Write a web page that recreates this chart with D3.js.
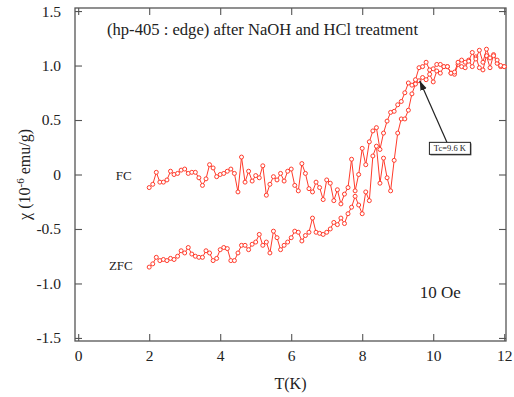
<!DOCTYPE html>
<html>
<head>
<meta charset="utf-8">
<script src="https://cdn.jsdelivr.net/npm/d3@7"></script>
<style>
  body { margin: 0; background: #fff; }
  svg text { fill: #222; }
</style>
</head>
<body>
<div id="chart"></div>
<script>
// temperatures (K)
const temps = [
  2.0, 2.1, 2.2, 2.3, 2.4, 2.5, 2.6, 2.7, 2.8, 2.9,
  3.0, 3.1, 3.2, 3.3, 3.4, 3.5, 3.6, 3.7, 3.8, 3.9,
  4.0, 4.1, 4.2, 4.3, 4.4, 4.5, 4.6, 4.7, 4.8, 4.9,
  5.0, 5.1, 5.2, 5.3, 5.4, 5.5, 5.6, 5.7, 5.8, 5.9,
  6.0, 6.1, 6.2, 6.3, 6.4, 6.5, 6.6, 6.7, 6.8, 6.9,
  7.0, 7.1, 7.2, 7.3, 7.4, 7.5, 7.6, 7.7, 7.8, 7.9,
  8.0, 8.1, 8.2, 8.3, 8.4, 8.5, 8.6, 8.7, 8.8, 8.9,
  9.0, 9.1, 9.2, 9.3, 9.4, 9.5, 9.6, 9.7, 9.8, 9.9,
  10.0, 10.1, 10.2, 10.3, 10.4, 10.5, 10.6, 10.7, 10.8, 10.9,
  11.0, 11.1, 11.2, 11.3, 11.4, 11.5, 11.6, 11.7, 11.8, 11.9,
  12.0
];

// field cooled susceptibility (10^-6 emu/g)
const fcValues = [
  -0.12, -0.09, 0.02, -0.07, -0.07, -0.05, 0.03, 0.00, 0.01, 0.04,
  0.05, 0.01, 0.02, 0.02, -0.03, -0.10, -0.04, 0.09, 0.06, -0.02,
  0.00, 0.01, 0.03, 0.05, 0.01, -0.16, 0.16, -0.07, 0.03, -0.06,
  -0.01, -0.03, 0.08, -0.19, -0.09, -0.02, -0.05, 0.01, -0.06, 0.03,
  0.05, -0.10, -0.15, 0.10, 0.01, -0.13, -0.16, -0.07, -0.12, -0.23,
  -0.05, -0.08, -0.24, -0.14, -0.27, -0.18, -0.12, 0.14, -0.15, 0.00,
  0.24, 0.09, 0.30, 0.40, 0.43, 0.23, 0.38, 0.49, 0.57, 0.58,
  0.64, 0.67, 0.75, 0.84, 0.82, 0.87, 0.98, 0.99, 1.03, 0.96,
  0.97, 1.01, 1.01, 0.99, 0.99, 0.93, 0.94, 1.03, 1.05, 1.03,
  1.04, 1.12, 1.06, 1.14, 1.03, 1.15, 1.07, 1.09, 1.05, 1.00,
  0.99
];

// zero field cooled susceptibility (10^-6 emu/g)
const zfcValues = [
  -0.85, -0.82, -0.76, -0.79, -0.78, -0.79, -0.77, -0.78, -0.75, -0.70,
  -0.72, -0.67, -0.73, -0.75, -0.76, -0.76, -0.70, -0.72, -0.79, -0.77,
  -0.69, -0.67, -0.68, -0.79, -0.79, -0.72, -0.65, -0.65, -0.69, -0.64,
  -0.62, -0.55, -0.65, -0.62, -0.72, -0.52, -0.58, -0.69, -0.65, -0.62,
  -0.58, -0.52, -0.53, -0.61, -0.56, -0.53, -0.40, -0.53, -0.54, -0.55,
  -0.53, -0.50, -0.44, -0.46, -0.40, -0.45, -0.36, -0.30, -0.20, -0.28,
  -0.36, -0.16, -0.24, 0.17, 0.26, -0.08, 0.15, -0.03, -0.15, 0.13,
  0.38, 0.51, 0.51, 0.59, 0.74, 0.83, 0.86, 0.89, 0.87, 0.92,
  0.85, 0.95, 0.93, 0.99, 0.99, 0.93, 0.92, 1.01, 0.99, 0.98,
  1.05, 0.99, 1.08, 0.98, 0.96, 1.09, 0.98, 1.10, 1.02, 0.99,
  0.99
];

const xTicks = [0, 2, 4, 6, 8, 10, 12];
const yTicks = [-1.5, -1.0, -0.5, 0, 0.5, 1.0, 1.5];
const yTickLabels = ["-1.5", "-1.0", "-0.5", "0", "0.5", "1.0", "1.5"];
const tc = 9.6;

const settings = {
  width: 514,
  height: 397,
  left: 75,
  right: 506,
  top: 8,
  bottom: 341,
  tick: 7,
  red: "#ff3b2b",
  frame: "#555",
  font: '"Liberation Serif", "Times New Roman", serif'
};

const x = d3.scaleLinear().domain([-0.09, 12.05]).range([settings.left, settings.right]);
const y = d3.scaleLinear().domain([-1.528, 1.528]).range([settings.bottom, settings.top]);

const svg = d3.select("#chart").append("svg")
  .attr("width", settings.width)
  .attr("height", settings.height)
  .attr("font-family", settings.font);

// axes, ticks inward on all four sides
const tickFmt = (d) => yTickLabels[yTicks.indexOf(d)];

const xAxisB = svg.append("g")
  .attr("transform", `translate(0,${settings.bottom})`)
  .call(d3.axisBottom(x).tickValues(xTicks).tickSizeInner(-settings.tick).tickSizeOuter(0));
const xAxisT = svg.append("g")
  .attr("transform", `translate(0,${settings.top})`)
  .call(d3.axisTop(x).tickValues(xTicks).tickSizeInner(-settings.tick).tickSizeOuter(0).tickFormat(""));
const yAxisL = svg.append("g")
  .attr("transform", `translate(${settings.left},0)`)
  .call(d3.axisLeft(y).tickValues(yTicks).tickSizeInner(-settings.tick).tickSizeOuter(0).tickPadding(14).tickFormat(tickFmt));
const yAxisR = svg.append("g")
  .attr("transform", `translate(${settings.right},0)`)
  .call(d3.axisRight(y).tickValues(yTicks).tickSizeInner(-settings.tick).tickSizeOuter(0).tickFormat(""));

[xAxisB, xAxisT, yAxisL, yAxisR].forEach((g) => {
  g.attr("font-family", settings.font);
  g.select(".domain").remove();
  g.selectAll(".tick line").attr("stroke", settings.frame).attr("stroke-width", 1.1);
  g.selectAll(".tick text")
    .attr("font-size", 15.5)
    .attr("fill", "#222");
});
xAxisB.selectAll(".tick text").attr("y", 9).attr("dy", "0.71em");

svg.append("rect")
  .attr("x", settings.left)
  .attr("y", settings.top)
  .attr("width", settings.right - settings.left)
  .attr("height", settings.bottom - settings.top)
  .attr("fill", "none")
  .attr("stroke", settings.frame)
  .attr("stroke-width", 1.3);

// series
const line = d3.line().x((d) => x(d[0])).y((d) => y(d[1]));
const series = [
  d3.zip(temps, zfcValues),
  d3.zip(temps, fcValues)
];

series.forEach((pts) => {
  svg.append("path")
    .datum(pts)
    .attr("d", line)
    .attr("fill", "none")
    .attr("stroke", settings.red)
    .attr("stroke-width", 1);

  svg.append("g")
    .selectAll("circle")
    .data(pts)
    .join("circle")
    .attr("cx", (d) => x(d[0]))
    .attr("cy", (d) => y(d[1]))
    .attr("r", 2)
    .attr("fill", "#fff")
    .attr("stroke", settings.red)
    .attr("stroke-width", 1);
});

// texts
svg.append("text")
  .attr("x", 107)
  .attr("y", 35)
  .attr("font-size", 16.6)
  .text("(hp-405 : edge) after NaOH and HCl treatment");

svg.append("text")
  .attr("x", x(1.28))
  .attr("y", y(-0.05))
  .attr("text-anchor", "middle")
  .attr("font-size", 13)
  .text("FC");

svg.append("text")
  .attr("x", x(1.2))
  .attr("y", y(-0.88))
  .attr("text-anchor", "middle")
  .attr("font-size", 13)
  .text("ZFC");

svg.append("text")
  .attr("x", x(10.2))
  .attr("y", y(-1.13))
  .attr("text-anchor", "middle")
  .attr("font-size", 17)
  .text("10 Oe");

svg.append("text")
  .attr("x", (settings.left + settings.right) / 2)
  .attr("y", 389)
  .attr("text-anchor", "middle")
  .attr("font-size", 16)
  .text("T(K)");

const yLab = svg.append("text")
  .attr("transform", `translate(30,${y(0)}) rotate(-90)`)
  .attr("text-anchor", "middle")
  .attr("font-size", 16);
yLab.append("tspan").text("χ (10");
yLab.append("tspan").attr("dy", -6).attr("font-size", 11).text("-6");
yLab.append("tspan").attr("dy", 6).text(" emu/g)");

// Tc annotation
const defs = svg.append("defs");
defs.append("marker")
  .attr("id", "arrow")
  .attr("viewBox", "0 0 10 10")
  .attr("refX", 10)
  .attr("refY", 5)
  .attr("markerWidth", 8)
  .attr("markerHeight", 8)
  .attr("orient", "auto")
  .append("path")
  .attr("d", "M0,1.5 L10,5 L0,8.5 Z")
  .attr("fill", "#222");

const boxX = x(10.47), boxY = y(0.24);
svg.append("line")
  .attr("x1", boxX - 3)
  .attr("y1", boxY - 6)
  .attr("x2", x(tc + 0.02))
  .attr("y2", y(0.86))
  .attr("stroke", "#222")
  .attr("stroke-width", 1.2)
  .attr("marker-end", "url(#arrow)");

// small drop shadow, then the box
svg.append("rect")
  .attr("x", boxX - 19.5)
  .attr("y", boxY - 5)
  .attr("width", 41)
  .attr("height", 12)
  .attr("fill", "#444");

svg.append("rect")
  .attr("x", boxX - 20.5)
  .attr("y", boxY - 6)
  .attr("width", 41)
  .attr("height", 12)
  .attr("fill", "#fff")
  .attr("stroke", "#222")
  .attr("stroke-width", 1);

svg.append("text")
  .attr("x", boxX)
  .attr("y", boxY + 3)
  .attr("text-anchor", "middle")
  .attr("font-size", 8.5)
  .text("Tc=" + tc + " K");
</script>
</body>
</html>
